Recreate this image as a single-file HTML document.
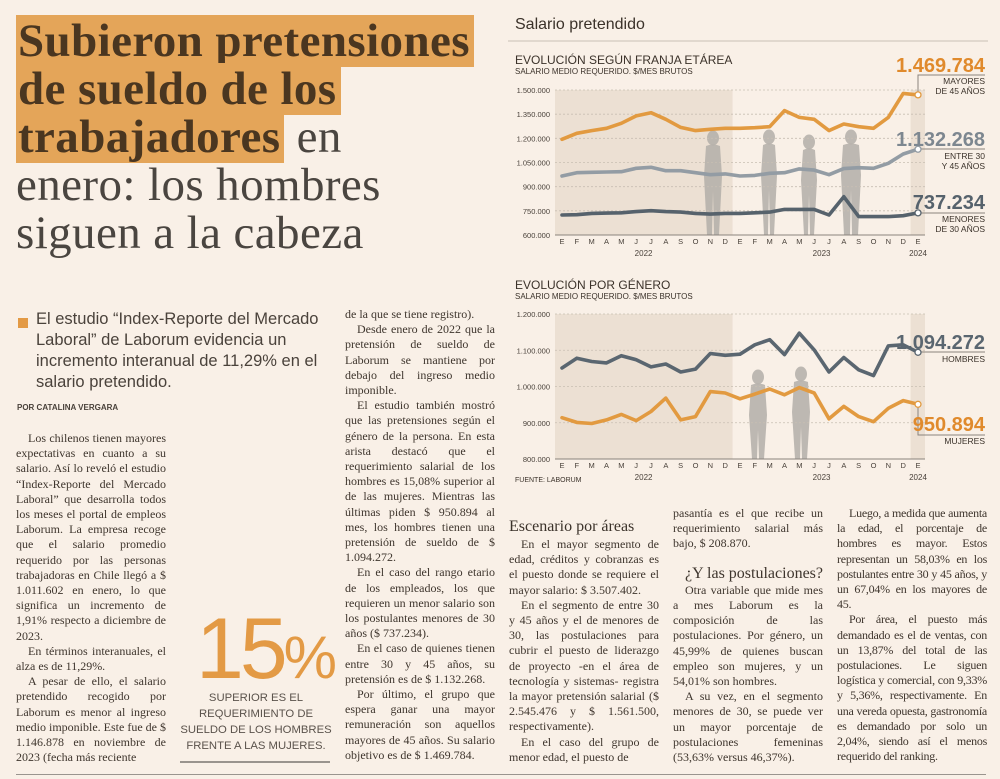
<!DOCTYPE html>
<html lang="es"><head><meta charset="utf-8">
<style>
html,body{margin:0;padding:0;}
body{width:1000px;height:779px;background:#f9f0e7;position:relative;overflow:hidden;font-family:"Liberation Serif",serif;color:#3b322a;}
.abs{position:absolute;}
.hl{position:absolute;left:16px;font-family:"Liberation Serif",serif;font-size:47px;line-height:48px;white-space:nowrap;letter-spacing:0.4px;}
.hl b{background:#e4a559;color:#4a3620;padding:0 4px 0 2px;font-weight:bold;}
.hl span{color:#4a4540;}
.col{position:absolute;width:150px;font-size:12px;line-height:15.2px;text-align:justify;color:#3e352d;hyphens:auto;-webkit-hyphens:auto;}
.col p{margin:0;text-indent:12px;}
.col p.ni{text-indent:0;}
.sans{font-family:"Liberation Sans",sans-serif;}
</style></head><body>
<div class="hl" style="top:17px"><b>Subieron pretensiones</b></div>
<div class="hl" style="top:65px"><b>de sueldo de los</b></div>
<div class="hl" style="top:113px"><b>trabajadores</b> <span>en</span></div>
<div class="hl" style="top:161px"><span>enero: los hombres</span></div>
<div class="hl" style="top:209px"><span>siguen a la cabeza</span></div>

<div class="abs" style="left:18px;top:318px;width:10px;height:10px;background:#e39a45"></div>
<div class="abs sans" style="left:36px;top:309px;width:300px;font-size:16.5px;line-height:21px;color:#4a423b">El estudio “Index-Reporte del Mercado Laboral” de Laborum evidencia un incremento interanual de 11,29% en el salario pretendido.</div>
<div class="abs sans" style="left:17px;top:403px;font-size:8px;font-weight:bold;color:#4a423b">POR CATALINA VERGARA</div>

<div class="col" style="left:16px;top:431px">
<p>Los chilenos tienen mayores expectativas en cuanto a su salario. Así lo reveló el estudio “Index-Reporte del Mercado Laboral” que desarrolla todos los meses el portal de empleos Laborum. La empresa recoge que el salario promedio requerido por las personas trabajadoras en Chile llegó a $ 1.011.602 en enero, lo que significa un incremento de 1,91% respecto a diciembre de 2023.</p>
<p>En términos interanuales, el alza es de 11,29%.</p>
<p>A pesar de ello, el salario pretendido recogido por Laborum es menor al ingreso medio imponible. Este fue de $ 1.146.878 en noviembre de 2023 (fecha más reciente</p>
</div>

<div class="abs sans" style="left:196px;top:606px;font-size:86px;line-height:86px;color:#e39a45;font-weight:300;letter-spacing:-4px">15<span style="font-size:60px">%</span></div>
<div class="abs sans" style="left:176px;top:690px;width:160px;text-align:center;font-size:11.3px;line-height:16px;color:#5a524b">SUPERIOR ES EL REQUERIMIENTO DE SUELDO DE LOS HOMBRES FRENTE A LAS MUJERES.</div>
<div class="abs" style="left:180px;top:761px;width:150px;height:2px;background:#9a948e"></div>

<div class="col" style="left:345px;top:307px">
<p class="ni">de la que se tiene registro).</p>
<p>Desde enero de 2022 que la pretensión de sueldo de Laborum se mantiene por debajo del ingreso medio imponible.</p>
<p>El estudio también mostró que las pretensiones según el género de la persona. En esta arista destacó que el requerimiento salarial de los hombres es 15,08% superior al de las mujeres. Mientras las últimas piden $ 950.894 al mes, los hombres tienen una pretensión de sueldo de $ 1.094.272.</p>
<p>En el caso del rango etario de los empleados, los que requieren un menor salario son los postulantes menores de 30 años ($ 737.234).</p>
<p>En el caso de quienes tienen entre 30 y 45 años, su pretensión es de $ 1.132.268.</p>
<p>Por último, el grupo que espera ganar una mayor remuneración son aquellos mayores de 45 años. Su salario objetivo es de $ 1.469.784.</p>
</div>

<div class="abs" style="left:509px;top:518px;font-size:16px;color:#3b322a">Escenario por áreas</div>
<div class="col" style="left:509px;top:537px">
<p>En el mayor segmento de edad, créditos y cobranzas es el puesto donde se requiere el mayor salario: $ 3.507.402.</p>
<p>En el segmento de entre 30 y 45 años y el de menores de 30, las postulaciones para cubrir el puesto de liderazgo de proyecto -en el área de tecnología y sistemas- registra la mayor pretensión salarial ($ 2.545.476 y $ 1.561.500, respectivamente).</p>
<p>En el caso del grupo de menor edad, el puesto de</p>
</div>
<div class="col" style="left:673px;top:506px">
<p class="ni">pasantía es el que recibe un requerimiento salarial más bajo, $ 208.870.</p>
<div style="text-align:right;font-size:16px;margin:14px 0 2px">¿Y las postulaciones?</div>
<p>Otra variable que mide mes a mes Laborum es la composición de las postulaciones. Por género, un 45,99% de quienes buscan empleo son mujeres, y un 54,01% son hombres.</p>
<p>A su vez, en el segmento menores de 30, se puede ver un mayor porcentaje de postulaciones femeninas (53,63% versus 46,37%).</p>
</div>
<div class="col" style="left:837px;top:506px;letter-spacing:-0.25px">
<p>Luego, a medida que aumenta la edad, el porcentaje de hombres es mayor. Estos representan un 58,03% en los postulantes entre 30 y 45 años, y un 67,04% en los mayores de 45.</p>
<p>Por área, el puesto más demandado es el de ventas, con un 13,87% del total de las postulaciones. Le siguen logística y comercial, con 9,33% y 5,36%, respectivamente. En una vereda opuesta, gastronomía es demandado por solo un 2,04%, siendo así el menos requerido del ranking.</p>
</div>
<div class="abs" style="left:16px;top:774px;width:970px;height:1px;background:#9a948e"></div>

<svg id="charts" class="abs" style="left:0;top:0" width="1000" height="500"></svg>

<script>
const months = ["E","F","M","A","M","J","J","A","S","O","N","D","E","F","M","A","M","J","J","A","S","O","N","D","E"];
const years = ["2022","2023","2024"];
const ageTicks = [600000,750000,900000,1050000,1200000,1350000,1500000];
const genderTicks = [800000,900000,1000000,1100000,1200000];
const mayores45 = [1194000,1231000,1248000,1262000,1293000,1339000,1359000,1318000,1268000,1248000,1256000,1262000,1262000,1266000,1272000,1372000,1330000,1318000,1248000,1289000,1272000,1262000,1330000,1479000,1469784];
const entre30y45 = [966000,987000,989000,991000,993000,1014000,1020000,999000,999000,987000,974000,979000,966000,970000,983000,987000,1010000,1003000,974000,1012000,1018000,1014000,1045000,1103000,1132268];
const menores30 = [724000,726000,734000,736000,738000,745000,751000,745000,742000,734000,730000,734000,734000,738000,742000,759000,759000,759000,724000,838000,714000,714000,714000,720000,737234];
const hombres = [1051000,1078000,1069000,1065000,1085000,1074000,1054000,1062000,1040000,1048000,1091000,1086000,1089000,1115000,1129000,1088000,1147000,1101000,1040000,1080000,1046000,1030000,1112000,1115000,1094272];
const mujeres = [914000,901000,898000,908000,923000,906000,931000,968000,908000,917000,986000,982000,966000,979000,993000,977000,997000,982000,911000,945000,917000,903000,940000,961000,950894];

const svg = document.getElementById('charts');
const NS = 'http://www.w3.org/2000/svg';
function mk(tag, attrs, parent){const e=document.createElementNS(NS,tag);for(const k in attrs)e.setAttribute(k,attrs[k]);(parent||svg).appendChild(e);return e;}
function txt(s, attrs){const t=mk('text',attrs);t.textContent=s;return t;}
const fmt = v => String(v).replace(/\B(?=(\d{3})+(?!\d))/g,'.');
const X0=555,X1=925,XF=562,XL=918;
const xAt = i => XF + i*(XL-XF)/(months.length-1);

txt('Salario pretendido',{x:515,y:29,'font-family':'Liberation Sans Narrow, Liberation Sans, sans-serif','font-size':16,fill:'#3b322a',});
mk('line',{x1:508,y1:41,x2:988,y2:41,stroke:'#c9bfb4','stroke-width':1,});

function person(g,cx,top,bottom,w){
  mk('ellipse',{cx:cx,cy:top+7,rx:6,ry:7.5,fill:'#b3aea8',opacity:0.85},g);
  mk('path',{d:`M${cx-w/2+2},${top+15} Q${cx},${top+12} ${cx+w/2-2},${top+15} L${cx+w/2},${top+45} L${cx+w/2-3},${bottom} L${cx+1},${bottom} L${cx},${top+60} L${cx-1},${bottom} L${cx-w/2+3},${bottom} L${cx-w/2},${top+45} Z`,fill:'#b3aea8',opacity:0.85},g);
}

function chart(o){
  const y = v => o.yB + (v-o.min)/(o.max-o.min)*(o.yT-o.yB);
  const g = mk('g',{});
  txt(o.title,{x:515,y:o.titleY,'font-family':'Liberation Sans Narrow, Liberation Sans, sans-serif','font-size':12,fill:'#3b322a',});
  txt('SALARIO MEDIO REQUERIDO. $/MES BRUTOS',{x:515,y:o.titleY+10,'font-family':'Liberation Sans Narrow, Liberation Sans, sans-serif','font-size':8,fill:'#3b322a',});
  const s1=mk('rect',{x:X0,y:o.yT,width:(xAt(11)+xAt(12))/2-X0,height:o.yB-o.yT,fill:'#ece0d3'},g);
  
  
  const s2=mk('rect',{x:(xAt(23)+xAt(24))/2,y:o.yT,width:X1-(xAt(23)+xAt(24))/2,height:o.yB-o.yT,fill:'#ece0d3'},g);
  
  
  o.people.forEach(p=>person(g,p[0],p[1],o.yB,p[2]));
  o.ticks.forEach((t,i)=>{
    const yy=y(t);
    const gl=mk('line',{x1:X0,x2:X1,y1:yy,y2:yy,stroke:i==0?'#8a837d':'#c8beb3','stroke-width':i==0?1:0.8,'stroke-dasharray':i==0?'':'2,2'},g);
    
    
    const tl=txt(fmt(t),{x:550,y:yy+3,'text-anchor':'end','font-family':'Liberation Sans, sans-serif','font-size':7.5,fill:'#4a423b'});
    
    
  });
  months.forEach((m,i)=>{
    const ml=txt(m,{x:xAt(i),y:o.yB+9,'text-anchor':'middle','font-family':'Liberation Sans, sans-serif','font-size':7.5,fill:'#4a423b'});
    
    
  });
  [[years[0],xAt(5.5)],[years[1],xAt(17.5)],[years[2],xAt(24)]].forEach(a=>{
    const yl=txt(a[0],{x:a[1],y:o.yB+21,'text-anchor':'middle','font-family':'Liberation Sans, sans-serif','font-size':8,fill:'#4a423b'});
    
    
  });
  o.series.forEach(s=>{
    const pts=s.data.map((v,i)=>xAt(i).toFixed(1)+','+y(v).toFixed(1)).join(' ');
    const pl=mk('polyline',{points:pts,fill:'none',stroke:s.color,'stroke-width':3.6,'stroke-linejoin':'round','stroke-linecap':'round'},g);
    
    
    const lx=xAt(s.data.length-1), ly=y(s.data[s.data.length-1]);
    const ruleY = s.ruleY;
    const ld=mk('path',{d:`M${lx},${ly} L${lx},${ruleY} L985,${ruleY}`,fill:'none',stroke:'#8a837d','stroke-width':1},g);
    
    
    const c=mk('circle',{cx:lx,cy:ly,r:3,fill:'#fff',stroke:s.color,'stroke-width':1.3},g);
    
    
    const vl=txt(fmt(s.data[s.data.length-1]),{x:985,y:s.numY,'text-anchor':'end','font-family':'Liberation Sans Narrow, Liberation Sans, sans-serif','font-weight':'bold','font-size':20,fill:s.numColor});
    
    
    s.label.forEach((l,k)=>{
      const tl=txt(l,{x:985,y:s.labY+k*10,'text-anchor':'end','font-family':'Liberation Sans Narrow, Liberation Sans, sans-serif','font-size':8.5,fill:'#3b322a'});
      
      
    });
  });
}

chart({name:'age-chart',title:'EVOLUCIÓN SEGÚN FRANJA ETÁREA',titleY:64,yT:90,yB:235,min:600000,max:1500000,ticks:ageTicks,
  people:[[713,131,18],[769,130,16],[809,135,16],[851,130,20]],
  series:[
    {key:'mayores-45',data:mayores45,color:'#e29a40',numColor:'#e08a2c',ruleY:75,numY:72,labY:84,label:['MAYORES','DE 45 AÑOS']},
    {key:'entre-30-45',data:entre30y45,color:'#939ca4',numColor:'#7d8790',ruleY:149,numY:146,labY:159,label:['ENTRE 30','Y 45 AÑOS']},
    {key:'menores-30',data:menores30,color:'#56626c',numColor:'#56626c',ruleY:213,numY:209,labY:222,label:['MENORES','DE 30 AÑOS']}
  ]});
chart({name:'gender-chart',title:'EVOLUCIÓN POR GÉNERO',titleY:289,yT:314,yB:459,min:800000,max:1200000,ticks:genderTicks,
  people:[[758,370,18],[801,367,18]],
  series:[
    {key:'hombres',data:hombres,color:'#5a6670',numColor:'#5a6670',ruleY:352,numY:349,labY:362,label:['HOMBRES']},
    {key:'mujeres',data:mujeres,color:'#e29a40',numColor:'#e08a2c',ruleY:435,numY:431,labY:444,label:['MUJERES']}
  ]});
const src=txt('FUENTE: LABORUM',{x:515,y:482,'font-family':'Liberation Sans Narrow, Liberation Sans, sans-serif','font-size':7,fill:'#3b322a'});


</script>
</body></html>
